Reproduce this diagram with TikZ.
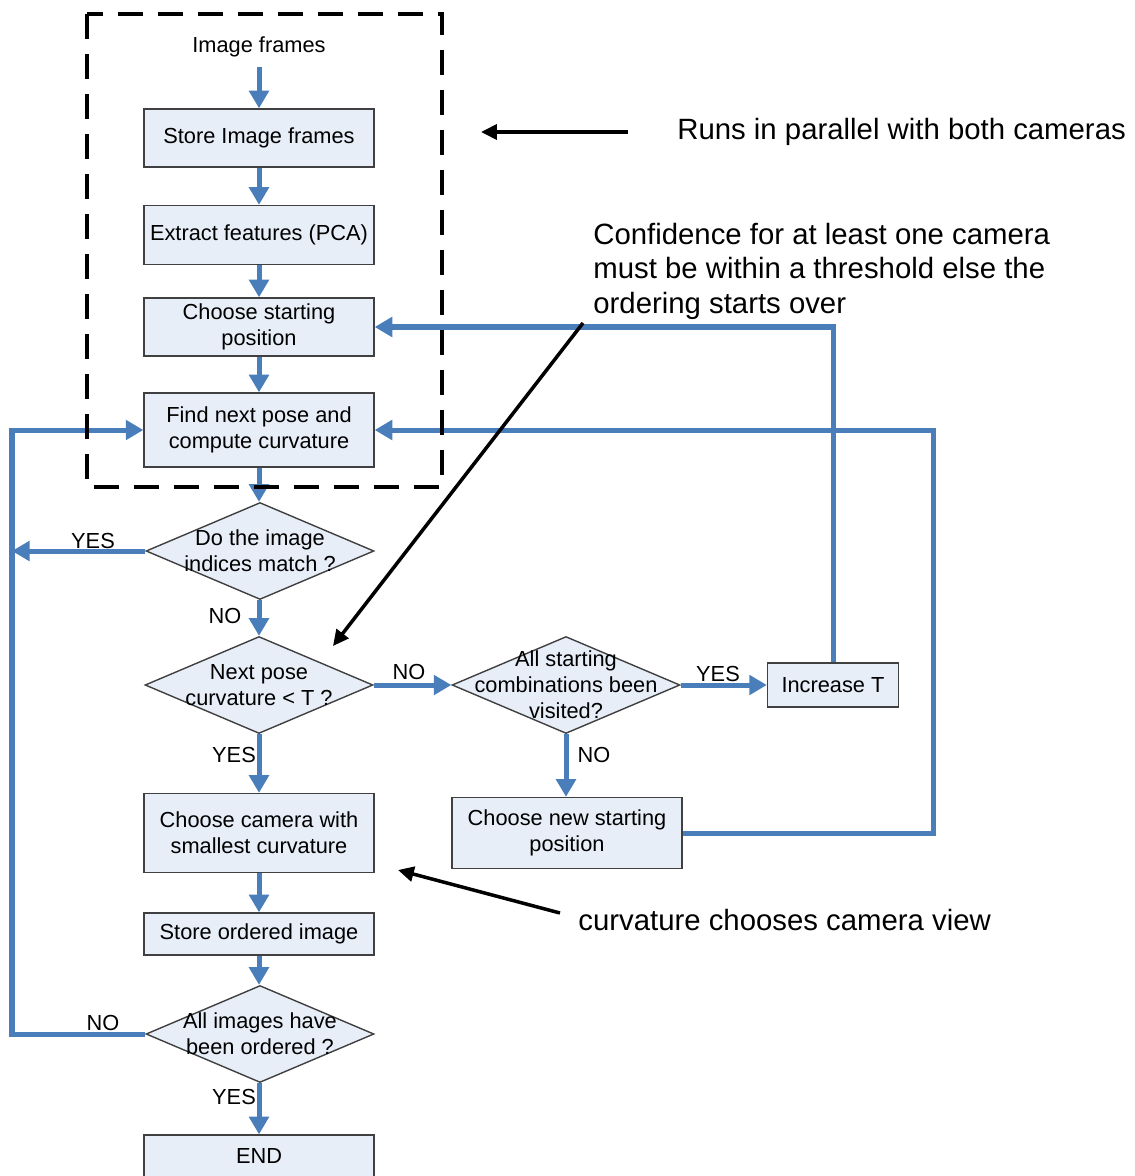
\documentclass[tikz,border=0pt]{standalone}
\usepackage{fontspec}
\setmainfont{Liberation Sans}
\usepackage{tikz}
\usetikzlibrary{arrows.meta,shapes.geometric,calc}

\definecolor{flowblue}{HTML}{4A7EBB}
\definecolor{boxfill}{HTML}{E8EEF8}
\definecolor{boxline}{HTML}{404040}
\newcommand{\boxfont}{\fontsize{12.4}{14.7}\selectfont}
\newcommand{\notefont}{\fontsize{16.7}{19.6}\selectfont}

\tikzset{
  stepbox/.style={draw=boxline, line width=0.8pt, fill=boxfill, minimum width=4.6cm,
    inner sep=2pt, align=center, font=\boxfont},
  decision/.style={diamond, draw=boxline, line width=0.8pt, fill=boxfill,
    minimum width=4.56cm, minimum height=1.94cm, inner sep=0pt},
  dtext/.style={align=center, font=\boxfont, inner sep=0pt},
  flow/.style={draw=flowblue, line width=2.85pt, -{Triangle[length=10pt,width=11pt]}},
  lbl/.style={font=\boxfont, inner sep=0pt},
  note/.style={font=\notefont, inner sep=0pt, align=left},
  notearrow/.style={draw=black, line width=2pt, -{Triangle[length=9pt,width=8.5pt]}},
  dashbox/.style={draw=black, line width=2.4pt, dash pattern=on 0.5cm off 0.3cm}
}

\begin{document}
\begin{tikzpicture}[x=0.02cm, y=-0.02cm]
\useasboundingbox (0,0) rectangle (1135,1176);

% main column
\node[lbl] (frames) at (259,47) {Image frames};
\node[stepbox, minimum height=1.16cm] (store) at (259,138) {Store Image frames};
\node[stepbox, minimum height=1.18cm] (extract) at (259,235) {Extract features (PCA)};
\node[stepbox, minimum height=1.16cm] (start) at (259,327) {Choose starting\\position};
\node[stepbox, minimum height=1.48cm] (nextpose) at (259,430) {Find next pose and\\compute curvature};
\node[decision, label={[dtext]center:{Do the image\\indices match ?}}] (match) at (260,551) {};
\node[decision, label={[dtext]center:{Next pose\\curvature < T ?}}] (curv) at (259,685) {};
\node[stepbox, minimum height=1.58cm] (camera) at (259,833) {Choose camera with\\smallest curvature};
\node[stepbox, minimum height=0.84cm] (ordered) at (259,934) {Store ordered image};
\node[decision, label={[dtext]center:{All images have\\been ordered ?}}] (allimg) at (260,1034) {};
\node[stepbox, minimum height=0.84cm] (end) at (259,1156) {END};

% right branch
\node[decision, label={[dtext]center:{All starting\\combinations been\\visited?}}] (visited) at (566,685) {};
\node[stepbox, minimum width=2.62cm, minimum height=0.88cm] (incT) at (833,685) {Increase T};
\node[stepbox, minimum height=1.42cm] (newstart) at (567,833) {Choose new starting\\position};

\coordinate (leftrail) at (12,1034);
\coordinate (rightrail) at (933,832);

\draw[flow] (frames.south) ++(0,10) -- (store.north);
\draw[flow] (store) -- (extract);
\draw[flow] (extract) -- (start);
\draw[flow] (start) -- (nextpose);
\draw[flow] (nextpose) -- (match.north -| nextpose);
\draw[flow] (match.south -| curv) -- (curv.north);
\draw[flow] (curv.south) -- (camera.north);
\draw[flow] (camera) -- (ordered);
\draw[flow] (ordered) -- (allimg.north -| ordered);
\draw[flow] (allimg.south -| end) -- (end.north);
\draw[flow] (curv.east) -- (visited.west);
\draw[flow] (visited.east) -- (incT.west);
\draw[flow] (visited.south) -- (newstart.north -| visited);
\draw[flow] (incT.north) |- (start.east);
\draw[flow] (newstart.east) -- (newstart.east -| rightrail) |- (nextpose.east);
\draw[flow] (allimg.west) -- (leftrail) |- (nextpose.west);
\draw[flow] (match.west) -- (match.west -| leftrail);

\node[lbl] (yes1) at (93,541) {YES};
\node[lbl] (no1) at (225,616) {NO};
\node[lbl] (no2) at (409,672) {NO};
\node[lbl] (yes2) at (718,674) {YES};
\node[lbl] (yes3) at (234,755) {YES};
\node[lbl] (no3) at (594,755) {NO};
\node[lbl] (no4) at (103,1023) {NO};
\node[lbl] (yes4) at (234,1097) {YES};

% parallel part
\draw[dashbox] (87,14) rectangle (442,487);

% notes
\node[note, anchor=west] (runs) at (677,132) {Runs in parallel with both cameras};
\node[note, anchor=west] (conf) at (593,271) {Confidence for at least one camera\\must be within a threshold else the\\ordering starts over};
\node[note, anchor=west] (view) at (578,920) {curvature chooses camera view};
\coordinate (conftail) at (583,323);
\coordinate (conftip) at (333,646);
\coordinate (viewtail) at (560,913);
\coordinate (viewtip) at (398,870);
\draw[notearrow] (runs.west) ++(-49,0) -- ++(-147,0);
\draw[notearrow] (conftail) -- (conftip);
\draw[notearrow] (viewtail) -- (viewtip);
\end{tikzpicture}
\end{document}
